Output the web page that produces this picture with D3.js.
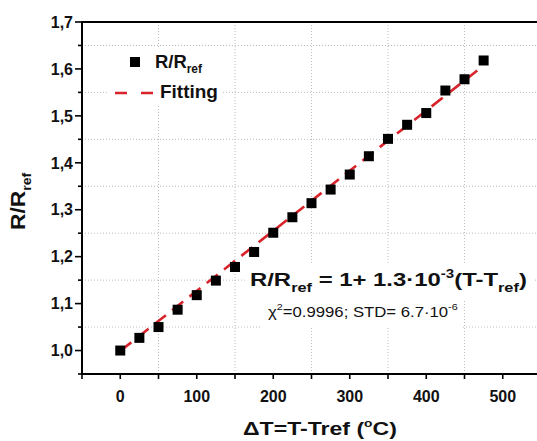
<!DOCTYPE html>
<html>
<head>
<meta charset="utf-8">
<script src="https://cdn.jsdelivr.net/npm/d3@7/dist/d3.min.js"></script>
<style>
  html, body { margin: 0; padding: 0; background: #fff; }
  svg { display: block; font-family: Arial, "Liberation Sans", sans-serif; }
</style>
</head>
<body>
<svg id="chart" width="537" height="441"></svg>
<script>
// ---------- data ----------
const deltaT = [0, 25, 50, 75, 100, 125, 150, 175, 200, 225, 250, 275, 300, 325, 350, 375, 400, 425, 450, 475];
const ratio  = [1.000, 1.027, 1.050, 1.087, 1.118, 1.149, 1.178, 1.210, 1.251, 1.284, 1.314, 1.343, 1.375, 1.414, 1.451, 1.481, 1.506, 1.554, 1.578, 1.618];
const fitX = [0, 467];
const fitY = [0.999, 1.597];
const xMajorTicks = [0, 100, 200, 300, 400, 500];
const xMinorTicks = [-50, 50, 150, 250, 350, 450];
const yMajorTicks = [1.0, 1.1, 1.2, 1.3, 1.4, 1.5, 1.6, 1.7];
const yTickLabels = ["1,0", "1,1", "1,2", "1,3", "1,4", "1,5", "1,6", "1,7"];
const yMinorTicks = [0.95, 1.05, 1.15, 1.25, 1.35, 1.45, 1.55, 1.65];
const gridX = [50, 150, 250, 350, 450];
const gridY = [1.05, 1.15, 1.25, 1.35, 1.45, 1.55, 1.65];

(function () {
// ---------- setup ----------
const svg = d3.select("#chart");
const W = 537;
const pLeft = 82, pTop = 22, pBottom = 374;
const x = d3.scaleLinear().domain([-50, 550]).range([pLeft, pLeft + 600 * 0.765]);
const y = d3.scaleLinear().domain([0.95, 1.7]).range([pBottom, pTop]);
const RED = "#d9232a";

// stretch helper: scale text horizontally to target width around anchor x0
function fit(sel, x0, targetW) {
  const bb = sel.node().getBBox();
  const s = targetW / bb.width;
  sel.attr("transform", `translate(${x0},0) scale(${s},1) translate(${-x0},0)`);
}

// ---------- grid ----------
const grid = svg.append("g").attr("stroke", "#bdbdbd").attr("stroke-width", 1).attr("stroke-dasharray", "1,2");
grid.selectAll("line.gx").data(gridX).join("line").attr("class", "gx")
  .attr("x1", d => x(d)).attr("x2", d => x(d)).attr("y1", pTop).attr("y2", pBottom);
grid.selectAll("line.gy").data(gridY).join("line").attr("class", "gy")
  .attr("x1", pLeft).attr("x2", W).attr("y1", d => y(d)).attr("y2", d => y(d));

// ---------- fit line ----------
svg.append("line")
  .attr("x1", x(fitX[0])).attr("y1", y(fitY[0]))
  .attr("x2", x(fitX[1])).attr("y2", y(fitY[1]))
  .attr("stroke", RED).attr("stroke-width", 2.6).attr("stroke-dasharray", "14,8");

// ---------- points ----------
const S = 10;
svg.append("g").selectAll("rect").data(deltaT).join("rect")
  .attr("x", (d) => x(d) - S / 2)
  .attr("y", (d, i) => y(ratio[i]) - S / 2)
  .attr("width", S).attr("height", S).attr("fill", "#000");

// ---------- axes ----------
const axG = svg.append("g").attr("stroke", "#000");
axG.append("line").attr("x1", pLeft).attr("x2", pLeft).attr("y1", pTop - 1).attr("y2", pBottom + 1).attr("stroke-width", 2);
axG.append("line").attr("x1", pLeft - 1).attr("x2", W).attr("y1", pBottom).attr("y2", pBottom).attr("stroke-width", 2);
axG.append("line").attr("x1", pLeft - 1).attr("x2", W).attr("y1", pTop).attr("y2", pTop).attr("stroke-width", 2);

// y ticks
axG.selectAll("line.ym").data(yMajorTicks).join("line").attr("class", "ym")
  .attr("x1", pLeft - 7).attr("x2", pLeft).attr("y1", d => y(d)).attr("y2", d => y(d)).attr("stroke-width", 1.6);
axG.selectAll("line.yn").data(yMinorTicks).join("line").attr("class", "yn")
  .attr("x1", pLeft - 4).attr("x2", pLeft).attr("y1", d => y(d)).attr("y2", d => y(d)).attr("stroke-width", 1.6);
svg.append("g").selectAll("text").data(yMajorTicks).join("text")
  .attr("x", 73).attr("y", d => y(d)).attr("dy", "0.36em")
  .attr("text-anchor", "end").attr("font-weight", "bold").attr("font-size", 16).attr("fill", "#111")
  .text((d, i) => yTickLabels[i]);

// x ticks
axG.selectAll("line.xm").data(xMajorTicks).join("line").attr("class", "xm")
  .attr("x1", d => x(d)).attr("x2", d => x(d)).attr("y1", pBottom).attr("y2", pBottom + 5).attr("stroke-width", 1.6);
axG.selectAll("line.xn").data(xMinorTicks).join("line").attr("class", "xn")
  .attr("x1", d => x(d)).attr("x2", d => x(d)).attr("y1", pBottom).attr("y2", pBottom + 5).attr("stroke-width", 1.6);
svg.append("g").selectAll("text").data(xMajorTicks).join("text")
  .attr("x", d => x(d)).attr("y", 402)
  .attr("text-anchor", "middle").attr("font-weight", "bold").attr("font-size", 16).attr("fill", "#111")
  .text(d => d);

// ---------- axis titles ----------
const xt = svg.append("text").attr("x", 243).attr("y", 435)
  .attr("font-weight", "bold").attr("font-size", 18.5).attr("fill", "#111");
xt.append("tspan").text("\u0394T=T-Tref (");
xt.append("tspan").attr("font-size", 11).attr("dy", -8).text("o");
xt.append("tspan").attr("dy", 8).text("C)");
fit(xt, 243, 154);

const ytG = svg.append("g").attr("transform", "translate(25,200) rotate(-90)");
const yt = ytG.append("text").attr("x", -30).attr("y", 0)
  .attr("font-weight", "bold").attr("font-size", 21).attr("fill", "#111");
yt.append("tspan").text("R/R");
yt.append("tspan").attr("font-size", 13).attr("dy", 6).text("ref");
fit(yt, -30, 58);

// ---------- legend ----------
svg.append("rect").attr("x", 107).attr("y", 48).attr("width", 116).attr("height", 56).attr("fill", "#fff");
svg.append("rect").attr("x", 130).attr("y", 57).attr("width", 10).attr("height", 10).attr("fill", "#000");
const l1 = svg.append("text").attr("x", 155).attr("y", 68)
  .attr("font-weight", "bold").attr("font-size", 18.5).attr("fill", "#111");
l1.append("tspan").text("R/R");
l1.append("tspan").attr("font-size", 12).attr("dy", 5).text("ref");
fit(l1, 155, 48);
svg.append("line").attr("x1", 115).attr("x2", 153).attr("y1", 93).attr("y2", 93)
  .attr("stroke", RED).attr("stroke-width", 2.6).attr("stroke-dasharray", "12,14");
const l2 = svg.append("text").attr("x", 160).attr("y", 98)
  .attr("font-weight", "bold").attr("font-size", 18.5).attr("fill", "#111").text("Fitting");
fit(l2, 160, 58);

// ---------- annotation ----------
svg.append("rect").attr("x", 245).attr("y", 263).attr("width", 288).attr("height", 37).attr("fill", "#fff");
svg.append("rect").attr("x", 262).attr("y", 300).attr("width", 200).attr("height", 28).attr("fill", "#fff");
const a1 = svg.append("text").attr("x", 250).attr("y", 286)
  .attr("font-weight", "bold").attr("font-size", 19).attr("fill", "#111");
a1.append("tspan").text("R/R");
a1.append("tspan").attr("font-size", 13).attr("dy", 6).text("ref");
a1.append("tspan").attr("dy", -6).text(" = 1+ 1.3\u00B710");
a1.append("tspan").attr("font-size", 12).attr("dy", -8).text("-3");
a1.append("tspan").attr("dy", 8).text("(T-T");
a1.append("tspan").attr("font-size", 13).attr("dy", 6).text("ref");
a1.append("tspan").attr("dy", -6).text(")");
fit(a1, 250, 277);

const a2 = svg.append("text").attr("x", 268).attr("y", 317)
  .attr("font-size", 14).attr("fill", "#111");
a2.append("tspan").text("\u03C7");
a2.append("tspan").attr("font-size", 9).attr("dy", -7).text("2");
a2.append("tspan").attr("dy", 7).text("=0.9996; STD= 6.7\u00B710");
a2.append("tspan").attr("font-size", 9).attr("dy", -7).text("-6");
fit(a2, 268, 190);
})();
</script>
</body>
</html>
